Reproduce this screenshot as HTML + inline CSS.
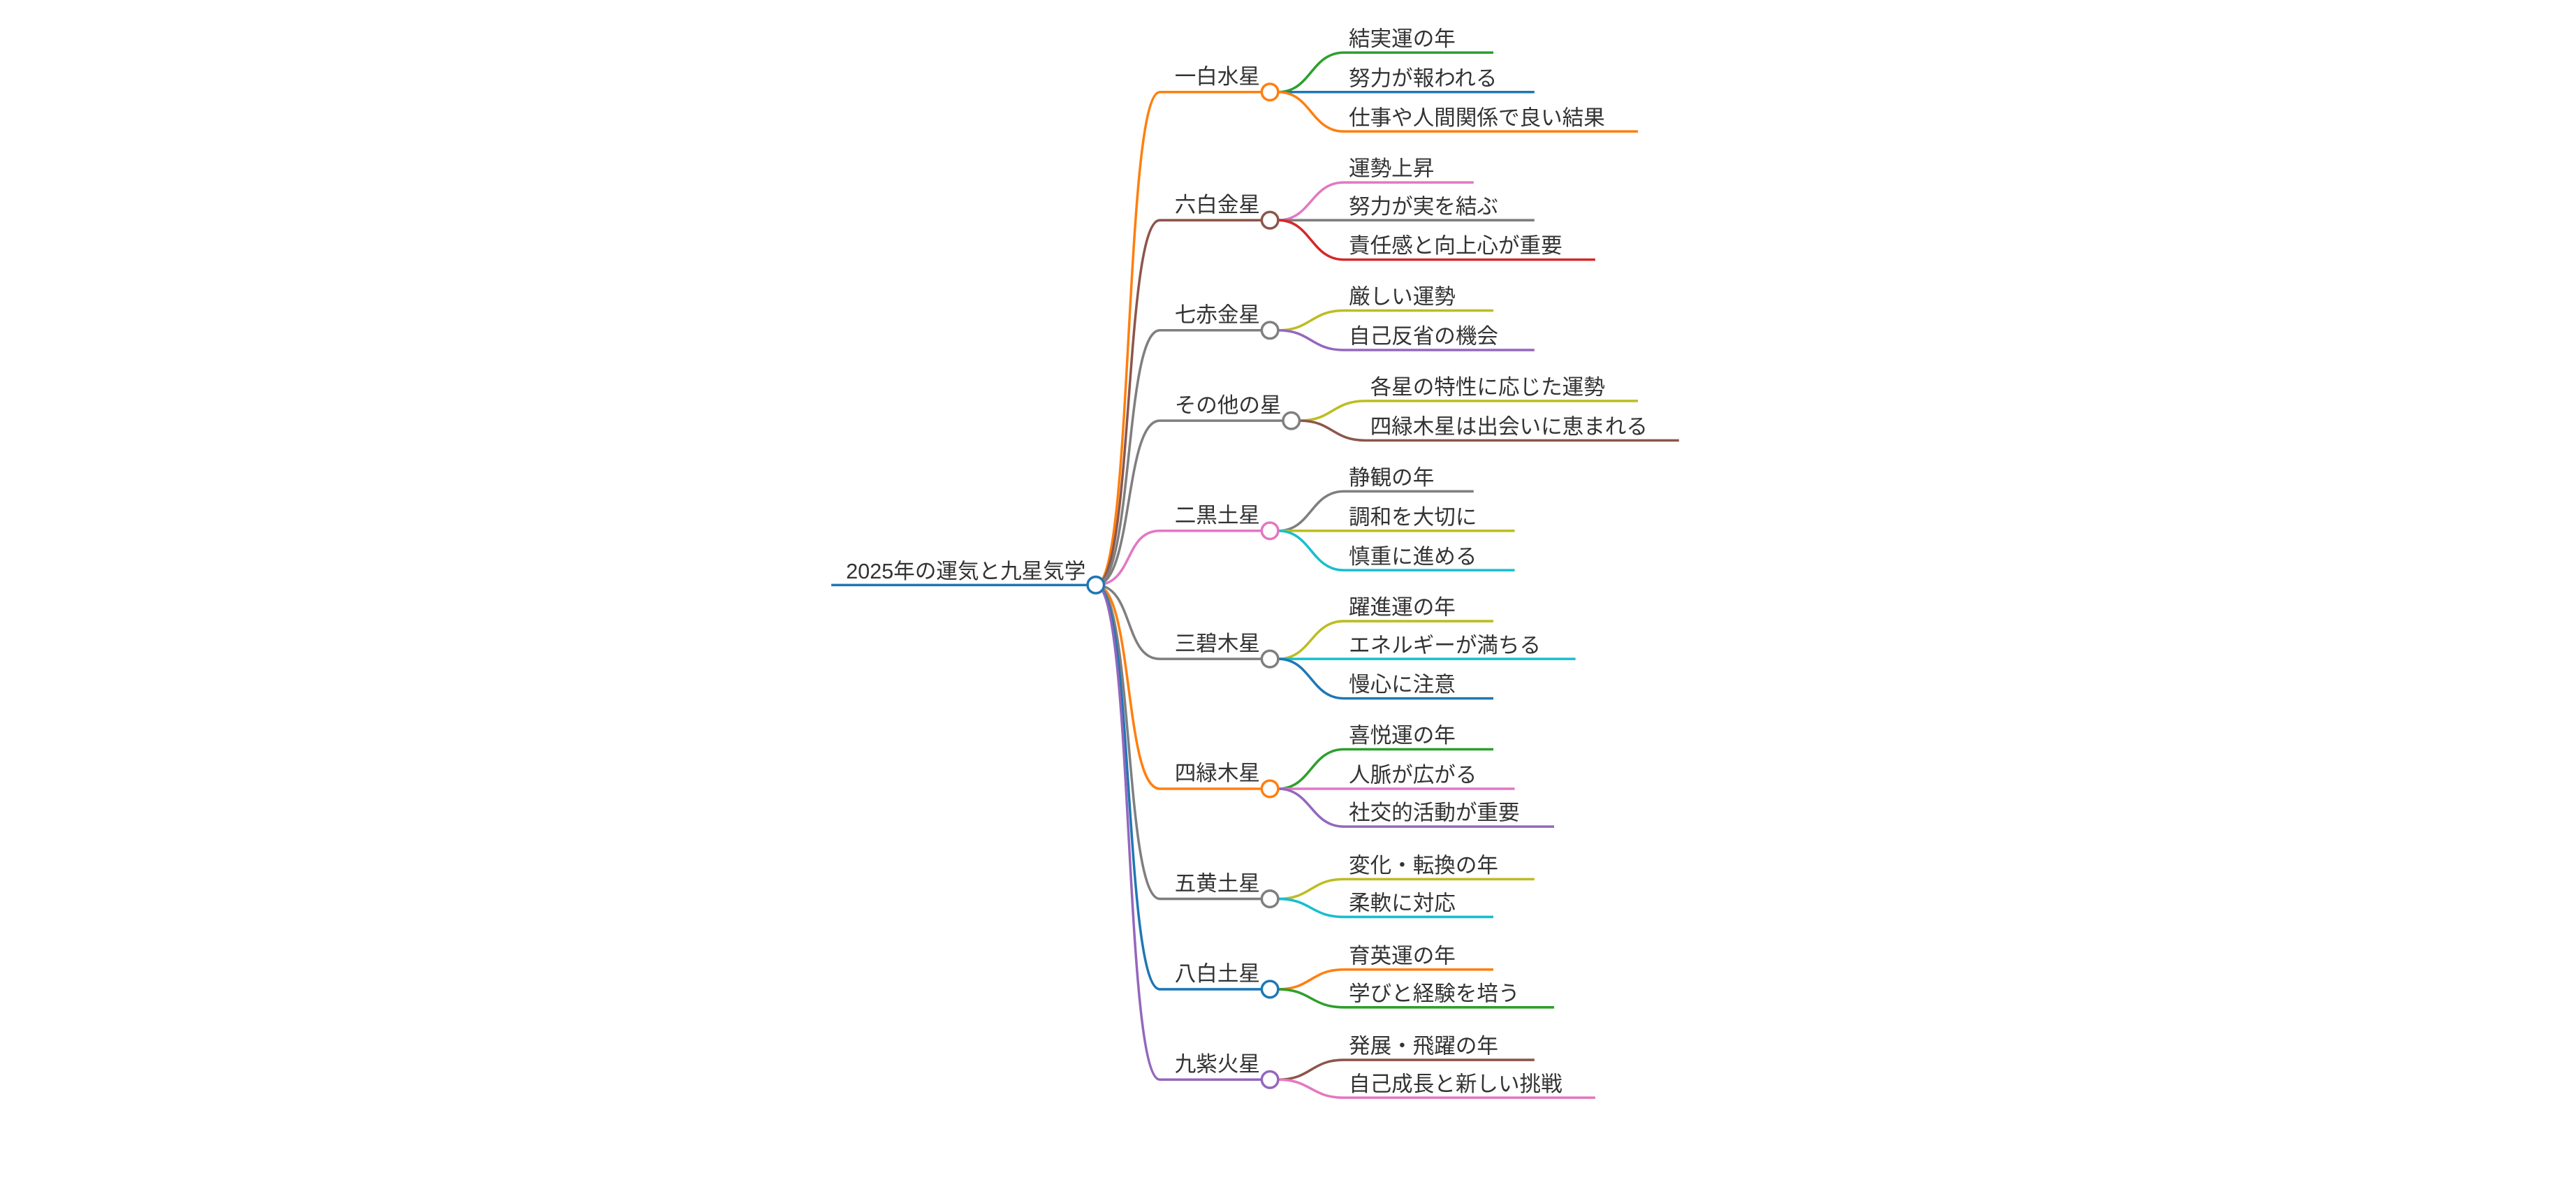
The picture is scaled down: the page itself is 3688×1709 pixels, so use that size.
<!DOCTYPE html>
<html><head><meta charset="utf-8"><style>
html,body{margin:0;padding:0;background:#fff;}
svg{display:block;}
text{font-family:"Liberation Sans","Noto Sans CJK JP",sans-serif;font-size:13px;fill:#333;}
path{fill:none;stroke-width:1.5;}
circle{fill:#fff;stroke-width:1.5;}
</style></head><body>
<svg width="3688" height="1709" viewBox="0 0 1568 726.6" xmlns="http://www.w3.org/2000/svg">
<!-- root -->
<path d="M506,356 L662,356" stroke="#1f77b4" stroke-width="2"/>
<text x="515" y="352">2025年の運気と九星気学</text>

<!-- star branches -->
<path d="M667,356 C690,356 684,56 706,56 L768,56" stroke="#ff7f0e"/>
<path d="M667,356 C690,356 684,134 706,134 L768,134" stroke="#8c564b"/>
<path d="M667,356 C690,356 684,201 706,201 L768,201" stroke="#7f7f7f"/>
<path d="M667,356 C690,356 684,256 706,256 L781,256" stroke="#7f7f7f"/>
<path d="M667,356 C690,356 684,323 706,323 L768,323" stroke="#e377c2"/>
<path d="M667,356 C690,356 684,401 706,401 L768,401" stroke="#7f7f7f"/>
<path d="M667,356 C690,356 684,480 706,480 L768,480" stroke="#ff7f0e"/>
<path d="M667,356 C690,356 684,547 706,547 L768,547" stroke="#7f7f7f"/>
<path d="M667,356 C690,356 684,602 706,602 L768,602" stroke="#1f77b4"/>
<path d="M667,356 C690,356 684,657 706,657 L768,657" stroke="#9467bd"/>
<circle cx="667" cy="356" r="5" stroke="#1f77b4"/>

<text x="715" y="51">一白水星</text>
<text x="715" y="129">六白金星</text>
<text x="715" y="196">七赤金星</text>
<text x="715" y="251">その他の星</text>
<text x="715" y="318">二黒土星</text>
<text x="715" y="396">三碧木星</text>
<text x="715" y="475">四緑木星</text>
<text x="715" y="542">五黄土星</text>
<text x="715" y="597">八白土星</text>
<text x="715" y="652">九紫火星</text>

<!-- 一白 -->
<path d="M778,56 C798,56 798,32 818,32 L909,32" stroke="#2ca02c"/>
<path d="M778,56 L934,56" stroke="#1f77b4"/>
<path d="M778,56 C798,56 798,80 818,80 L997,80" stroke="#ff7f0e"/>
<circle cx="773" cy="56" r="5" stroke="#ff7f0e"/>
<text x="821" y="28">結実運の年</text>
<text x="821" y="52">努力が報われる</text>
<text x="821" y="76">仕事や人間関係で良い結果</text>

<!-- 六白 -->
<path d="M778,134 C798,134 798,111 818,111 L897,111" stroke="#e377c2"/>
<path d="M778,134 L934,134" stroke="#7f7f7f"/>
<path d="M778,134 C798,134 798,158 818,158 L971,158" stroke="#d62728"/>
<circle cx="773" cy="134" r="5" stroke="#8c564b"/>
<text x="821" y="107">運勢上昇</text>
<text x="821" y="130">努力が実を結ぶ</text>
<text x="821" y="154">責任感と向上心が重要</text>

<!-- 七赤 -->
<path d="M778,201 C798,201 798,189 818,189 L909,189" stroke="#bcbd22"/>
<path d="M778,201 C798,201 798,213 818,213 L934,213" stroke="#9467bd"/>
<circle cx="773" cy="201" r="5" stroke="#7f7f7f"/>
<text x="821" y="185">厳しい運勢</text>
<text x="821" y="209">自己反省の機会</text>

<!-- その他 -->
<path d="M791,256 C811,256 811,244 831,244 L997,244" stroke="#bcbd22"/>
<path d="M791,256 C811,256 811,268 831,268 L1022,268" stroke="#8c564b"/>
<circle cx="786" cy="256" r="5" stroke="#7f7f7f"/>
<text x="834" y="240">各星の特性に応じた運勢</text>
<text x="834" y="264">四緑木星は出会いに恵まれる</text>

<!-- 二黒 -->
<path d="M778,323 C798,323 798,299 818,299 L897,299" stroke="#7f7f7f"/>
<path d="M778,323 L922,323" stroke="#bcbd22"/>
<path d="M778,323 C798,323 798,347 818,347 L922,347" stroke="#17becf"/>
<circle cx="773" cy="323" r="5" stroke="#e377c2"/>
<text x="821" y="295">静観の年</text>
<text x="821" y="319">調和を大切に</text>
<text x="821" y="343">慎重に進める</text>

<!-- 三碧 -->
<path d="M778,401 C798,401 798,378 818,378 L909,378" stroke="#bcbd22"/>
<path d="M778,401 L959,401" stroke="#17becf"/>
<path d="M778,401 C798,401 798,425 818,425 L909,425" stroke="#1f77b4"/>
<circle cx="773" cy="401" r="5" stroke="#7f7f7f"/>
<text x="821" y="374">躍進運の年</text>
<text x="821" y="397">エネルギーが満ちる</text>
<text x="821" y="421">慢心に注意</text>

<!-- 四緑 -->
<path d="M778,480 C798,480 798,456 818,456 L909,456" stroke="#2ca02c"/>
<path d="M778,480 L922,480" stroke="#e377c2"/>
<path d="M778,480 C798,480 798,503 818,503 L946,503" stroke="#9467bd"/>
<circle cx="773" cy="480" r="5" stroke="#ff7f0e"/>
<text x="821" y="452">喜悦運の年</text>
<text x="821" y="476">人脈が広がる</text>
<text x="821" y="499">社交的活動が重要</text>

<!-- 五黄 -->
<path d="M778,547 C798,547 798,535 818,535 L934,535" stroke="#bcbd22"/>
<path d="M778,547 C798,547 798,558 818,558 L909,558" stroke="#17becf"/>
<circle cx="773" cy="547" r="5" stroke="#7f7f7f"/>
<text x="821" y="531">変化・転換の年</text>
<text x="821" y="554">柔軟に対応</text>

<!-- 八白 -->
<path d="M778,602 C798,602 798,590 818,590 L909,590" stroke="#ff7f0e"/>
<path d="M778,602 C798,602 798,613 818,613 L946,613" stroke="#2ca02c"/>
<circle cx="773" cy="602" r="5" stroke="#1f77b4"/>
<text x="821" y="586">育英運の年</text>
<text x="821" y="609">学びと経験を培う</text>

<!-- 九紫 -->
<path d="M778,657 C798,657 798,645 818,645 L934,645" stroke="#8c564b"/>
<path d="M778,657 C798,657 798,668 818,668 L971,668" stroke="#e377c2"/>
<circle cx="773" cy="657" r="5" stroke="#9467bd"/>
<text x="821" y="641">発展・飛躍の年</text>
<text x="821" y="664">自己成長と新しい挑戦</text>
</svg>
</body></html>
